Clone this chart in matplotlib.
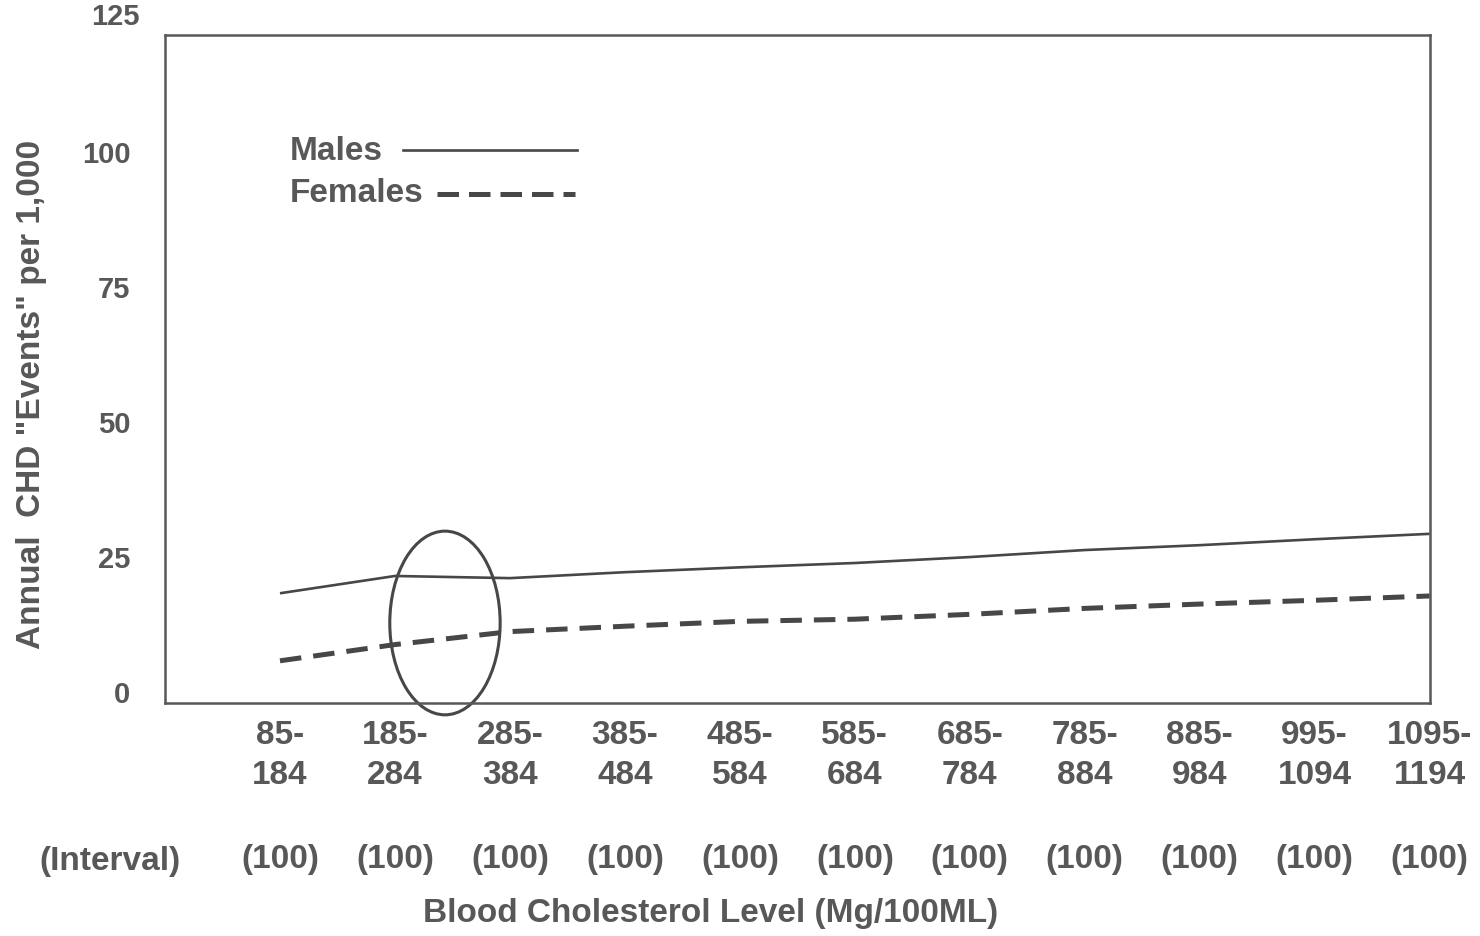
import numpy as np
import matplotlib.pyplot as plt
from matplotlib.patches import Ellipse
from matplotlib.lines import Line2D
from matplotlib.transforms import blended_transform_factory

plt.rcParams["font.family"] = ["Liberation Sans", "DejaVu Sans"]
plt.rcParams["font.weight"] = "bold"
plt.rcParams["axes.labelweight"] = "bold"

GRAY = "#585858"
LINE = "#474747"
FS = 24

intervals = ["85-\n184", "185-\n284", "285-\n384", "385-\n484", "485-\n584",
             "585-\n684", "685-\n784", "785-\n884", "885-\n984", "995-\n1094",
             "1095-\n1194"]
widths = ["(100)"] * len(intervals)

males = [18.3, 21.5, 21.1, 22.2, 23.1, 23.9, 25.0, 26.3, 27.2, 28.3, 29.3]
females = [5.8, 8.8, 11.2, 12.2, 13.1, 13.5, 14.4, 15.5, 16.3, 17.0, 17.8]

y_ticks = [0, 25, 50, 75, 100]

# circled region (data units)
circle_center = (1.435, 12.8)
circle_w, circle_h = 0.96, 34

x = np.arange(len(intervals))

fig = plt.figure(figsize=(14.8, 9.36), dpi=100)
ax = fig.add_axes([0.1115, 0.249, 0.8545, 0.714])

ax.plot(x, males, color=LINE, lw=1.9, solid_capstyle="butt")
ax.plot(x, females, color=LINE, lw=3.6, dashes=(4.3, 2.4))

ax.add_patch(Ellipse(circle_center, circle_w, circle_h, fill=False,
                     ec=LINE, lw=2.2, clip_on=False))

ax.set_xlim(-1, 10)
ax.set_ylim(-2, 121.7)
ax.set_xticks(x)
ax.set_xticklabels(intervals, fontsize=FS, color=GRAY, linespacing=1.38)
ax.set_yticks(y_ticks)
ax.set_yticklabels([str(v) for v in y_ticks], fontsize=21, color=GRAY)
ax.tick_params(axis="x", length=0, pad=12)
ax.tick_params(axis="y", length=0, pad=25)

ytr = blended_transform_factory(ax.transAxes, ax.transData)
ax.text(-0.0198, 125, "125", transform=ytr, ha="right", va="center",
        fontsize=21, color=GRAY, clip_on=False)

for s in ax.spines.values():
    s.set_color(GRAY)
    s.set_linewidth(1.8)

xtr = blended_transform_factory(ax.transData, ax.transAxes)
for xi, w in zip(x, widths):
    ax.text(xi, -0.235, w, transform=xtr, ha="center", va="center",
            fontsize=FS, color=GRAY)
ax.text(-1.48, -0.237, "(Interval)", transform=xtr, ha="center", va="center",
        fontsize=FS, color=GRAY)

ax.set_xlabel("Blood Cholesterol Level (Mg/100ML)", fontsize=FS, color=GRAY)
ax.xaxis.set_label_coords(0.431, -0.292)
ax.set_ylabel('Annual  CHD "Events" per 1,000', fontsize=FS, color=GRAY)
ax.yaxis.set_label_coords(-0.093, 0.461)

# legend key, drawn by hand so the text stays left aligned
ax.text(0.099, 0.825, "Males", transform=ax.transAxes, fontsize=FS,
        color=GRAY, va="center")
ax.text(0.099, 0.762, "Females", transform=ax.transAxes, fontsize=FS,
        color=GRAY, va="center")
ax.add_line(Line2D([0.188, 0.326], [0.828, 0.828], transform=ax.transAxes,
                   color=LINE, lw=1.9))
ax.add_line(Line2D([0.215, 0.324], [0.762, 0.762], transform=ax.transAxes,
                   color=LINE, lw=3.6, dashes=(4.3, 2.0)))

fig.savefig("out.png", dpi=100, facecolor="white")
